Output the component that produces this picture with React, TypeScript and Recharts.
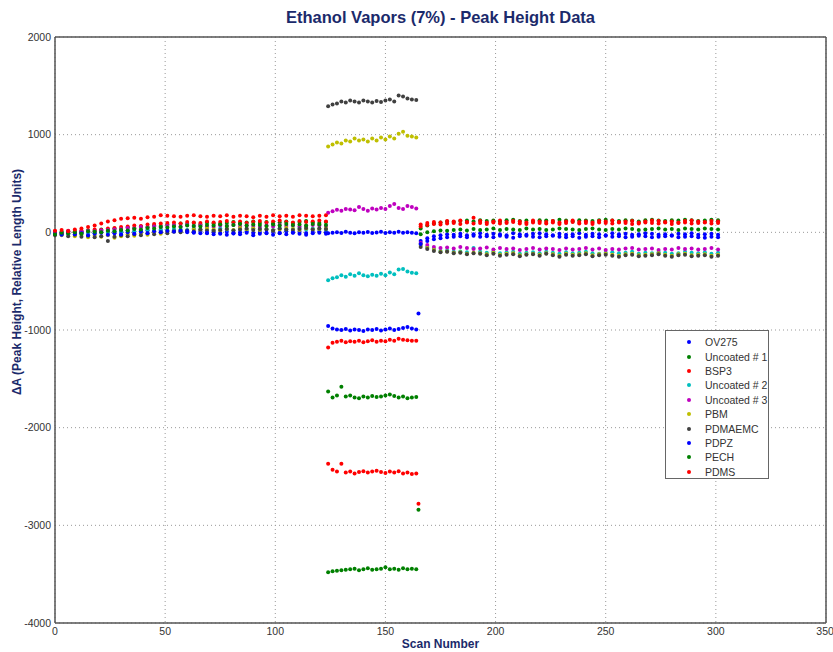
import { ScatterChart, Scatter, XAxis, YAxis, CartesianGrid, ReferenceLine } from "recharts";

// scan numbers: before exposure, during exposure, after
const scansA = [0, 3, 6, 9, 12, 15, 18, 21, 24, 27, 30, 33, 36, 39, 42, 45, 48, 51, 54, 57, 60, 63, 66, 69, 72, 75, 78, 81, 84, 87, 90, 93, 96, 99, 102, 105, 108, 111, 114, 117, 120, 123];
const scansB = [124, 126, 128, 130, 132, 134, 136, 138, 140, 142, 144, 146, 148, 150, 152, 154, 156, 158, 160, 162, 164, 165];
const scansC = [166, 169, 172, 175, 178, 181, 184, 187, 190, 193, 196, 199, 202, 205, 208, 211, 214, 217, 220, 223, 226, 229, 232, 235, 238, 241, 244, 247, 250, 253, 256, 259, 262, 265, 268, 271, 274, 277, 280, 283, 286, 289, 292, 295, 298, 301];
const scans = [...scansA, ...scansB, ...scansC];

const ov275 = [
  5, -10, 8, -5, 12, 0, -8, 15, 5, -3, 10, 18, 6, 12, 20, 8, 15, 5, 22, 10, 2, -5, 8, -10, 3, -8, 5, -12, 0, 8, -6, 4, -10, 6, -4, 10, -2, 5, -8, 3, 8, 0,
  -10, -5, 0, -8, 5, -3, -10, 0, -5, 3, -8, -2, 5, -6, 0, -4, 6, -3, 0, -5, -10, null,
  -90, -60, -40, -30, -20, -25, -15, -30, -20, -10, -25, -15, -20, -30, -10, -20, -25, -15, -10, -20, -30, -15, -25, -20, -10, -25, -15, -20, -30, -10, -20, -15, -25, -20, -10, -15, -25, -20, -30, -15, -20, -10, -25, -20, -15, -25,
];
const uncoated1 = [
  -10, 5, -15, 10, 0, 20, 15, 30, 25, 40, 35, 50, 45, 60, 55, 70, 65, 80, 75, 90, 85, 95, 80, 100, 90, 85, 95, 105, 90, 100, 110, 95, 105, 90, 100, 110, 95, 105, 115, 100, 95, 105,
  -1630, -1690, -1670, -1580, -1680, -1670, -1690, -1700, -1680, -1690, -1675, -1685, -1680, -1670, -1660, -1675, -1690, -1680, -1700, -1690, -1685, null,
  40, 70, 90, 100, 110, 105, 115, 120, 110, 125, 115, 120, 110, 125, 130, 115, 120, 110, 125, 120, 115, 130, 120, 110, 125, 120, 115, 125, 130, 120, 115, 125, 120, 110, 125, 130, 120, 115, 125, 120, 130, 125, 115, 120, 130, 125,
];
const bsp3 = [
  10, -5, 15, 0, 20, 10, 30, 25, 40, 45, 55, 60, 70, 65, 80, 85, 90, 95, 100, 90, 105, 100, 95, 110, 100, 105, 115, 100, 110, 95, 105, 115, 100, 110, 120, 105, 100, 115, 105, 110, 120, 110,
  -1180, -1130, -1120, -1110, -1125, -1115, -1120, -1110, -1125, -1115, -1105, -1120, -1110, -1115, -1100, -1110, -1090, -1100, -1105, -1110, -1110, null,
  60, 75, 85, 80, 90, 95, 85, 100, 90, 95, 85, 100, 90, 95, 105, 90, 85, 100, 95, 90, 100, 85, 95, 105, 90, 95, 85, 100, 95, 90, 100, 95, 85, 90, 100, 95, 90, 100, 85, 95, 100, 90, 95, 100, 90, 95,
];
const uncoated2 = [
  -10, 0, -20, -5, -15, 0, -10, 5, -5, 10, 0, 15, 10, 20, 25, 15, 30, 20, 35, 30, 25, 40, 30, 35, 25, 40, 30, 20, 35, 25, 40, 30, 35, 25, 40, 30, 35, 45, 30, 40, 35, 30,
  -490, -470, -460, -440, -455, -430, -445, -420, -440, -450, -435, -445, -425, -440, -410, -430, -380, -375, -400, -415, -420, null,
  -120, -150, -170, -190, -185, -200, -195, -205, -160, -200, -210, -195, -215, -205, -200, -220, -210, -205, -215, -200, -210, -220, -205, -215, -210, -200, -215, -220, -210, -205, -215, -210, -200, -220, -210, -215, -205, -210, -220, -215, -200, -210, -215, -205, -220, -210,
];
const uncoated3 = [
  0, -10, 10, -5, 5, 15, 10, 20, 25, 30, 35, 45, 40, 55, 50, 60, 55, 65, 70, 60, 75, 65, 70, 60, 55, 70, 65, 75, 60, 70, 65, 55, 70, 60, 75, 65, 70, 60, 65, 75, 70, 65,
  200, 215, 230, 220, 240, 235, 225, 260, 240, 220, 245, 235, 250, 240, 270, 290, 250, 240, 270, 260, 245, null,
  -110, -130, -150, -160, -155, -165, -150, -160, -170, -165, -155, -175, -160, -170, -165, -180, -170, -160, -175, -165, -170, -180, -165, -175, -170, -160, -175, -165, -180, -170, -175, -165, -160, -175, -170, -165, -180, -170, -175, -160, -170, -165, -175, -170, -160, -175,
];
const pbm = [
  -20, -30, -10, -40, -25, -50, -35, -45, -30, -55, -40, -20, -35, -10, -25, 0, -15, 10, 5, 20, 15, 30, 25, 40, 30, 20, 35, 25, 45, 30, 40, 25, 35, 20, 30, 45, 35, 25, 40, 30, 35, 40,
  880, 900, 920, 910, 940, 930, 960, 940, 950, 930, 960, 940, 970, 950, 980, 960, 1010, 1030, 990, 980, 970, null,
  -130, -160, -180, -200, -195, -210, -205, -220, -210, -215, -225, -210, -230, -220, -215, -235, -225, -220, -230, -215, -225, -240, -220, -230, -225, -215, -235, -225, -220, -230, -240, -225, -220, -235, -230, -225, -215, -230, -240, -225, -220, -235, -230, -225, -240, -230,
];
const pdmaemc = [
  -30, -20, -40, -25, -45, -35, -50, -40, -90, -45, -30, -40, -20, -30, -10, -20, 0, -10, 10, 0, 20, 10, 30, 20, 15, 25, 35, 20, 30, 40, 25, 35, 30, 20, 40, 30, 25, 35, 45, 30, 40, 35,
  1290, 1310, 1320, 1340, 1330, 1350, 1340, 1330, 1350, 1340, 1330, 1345, 1335, 1350, 1360, 1340, 1400, 1390, 1370, 1360, 1355, null,
  -150, -170, -190, -205, -200, -215, -210, -225, -215, -220, -235, -220, -240, -230, -225, -245, -230, -225, -240, -220, -235, -250, -230, -240, -235, -225, -245, -235, -230, -240, -250, -235, -230, -245, -240, -235, -225, -240, -250, -235, -230, -245, -240, -235, -250, -240,
];
const pdpz = [
  -15, -25, -5, -20, -10, -30, -15, -5, -25, -10, -20, 0, -15, 5, -10, 10, 0, 15, 5, 20, 10, 0, -10, -5, -20, -15, -25, -10, -20, -5, -30, -15, -5, -25, -10, -20, -5, -15, -25, -10, -5, -15,
  -960, -985, -995, -1000, -990, -1005, -995, -1000, -1010, -995, -1000, -990, -1005, -995, -985, -1000, -990, -980, -970, -985, -995, -830,
  -120, -90, -70, -60, -50, -45, -40, -50, -35, -45, -40, -50, -35, -45, -55, -40, -35, -45, -50, -40, -35, -45, -50, -40, -55, -45, -40, -50, -35, -45, -40, -50, -45, -35, -40, -50, -45, -40, -35, -50, -45, -40, -50, -55, -45, -50,
];
const pech = [
  -20, -5, -10, 0, -15, 10, 5, 0, 15, 10, 25, 20, 35, 30, 45, 40, 55, 50, 60, 55, 70, 65, 60, 75, 70, 80, 65, 75, 85, 70, 80, 75, 65, 80, 70, 85, 75, 80, 70, 85, 80, 75,
  -3480, -3470, -3465, -3460, -3455, -3450, -3445, -3460, -3450, -3440, -3455, -3450, -3445, -3430, -3450, -3445, -3455, -3440, -3450, -3445, -3450, -2840,
  -20, 0, 10, 20, 15, 25, 30, 20, 35, 25, 30, 40, 25, 35, 30, 25, 40, 30, 35, 25, 30, 40, 35, 30, 25, 35, 40, 30, 25, 35, 30, 40, 35, 25, 30, 35, 40, 30, 35, 25, 40, 35, 30, 40, 35, 30,
];
const pdms = [
  15, 25, 10, 30, 40, 55, 70, 90, 110, 125, 140, 145, 150, 140, 155, 160, 175, 170, 165, 160, 170, 175, 165, 160, 170, 165, 175, 160, 170, 165, 155, 170, 160, 175, 165, 170, 160, 175, 170, 165, 170, 175,
  -2370, -2430, -2450, -2370, -2460, -2450, -2470, -2455, -2445, -2460, -2450, -2440, -2455, -2465, -2450, -2460, -2445, -2470, -2460, -2475, -2470, -2780,
  80, 95, 105, 100, 115, 110, 120, 105, 150, 115, 100, 110, 120, 105, 115, 110, 100, 120, 110, 105, 115, 100, 110, 120, 105, 110, 100, 115, 110, 120, 105, 110, 115, 100, 110, 120, 115, 105, 110, 100, 115, 120, 110, 105, 115, 110,
];

const series = [
  { name: "OV275", color: "#0000FF", values: ov275 },
  { name: "Uncoated # 1", color: "#008000", values: uncoated1 },
  { name: "BSP3", color: "#FF0000", values: bsp3 },
  { name: "Uncoated # 2", color: "#00BFBF", values: uncoated2 },
  { name: "Uncoated # 3", color: "#BF00BF", values: uncoated3 },
  { name: "PBM", color: "#BFBF00", values: pbm },
  { name: "PDMAEMC", color: "#404040", values: pdmaemc },
  { name: "PDPZ", color: "#0000FF", values: pdpz },
  { name: "PECH", color: "#008000", values: pech },
  { name: "PDMS", color: "#FF0000", values: pdms },
];

const xTicks = [0, 50, 100, 150, 200, 250, 300, 350];
const yTicks = [-4000, -3000, -2000, -1000, 0, 1000, 2000];

const toPoints = (vals: (number | null)[]) =>
  scans.map((x, i) => ({ x, y: vals[i] })).filter((p) => p.y !== null && p.y !== undefined);

const navy = "#1B2A6B";
const font = "'Liberation Sans Narrow', 'Liberation Sans', Arial, sans-serif";

export default function App() {
  return (
    <div style={{ position: "absolute", left: 0, top: 0, width: 833, height: 652, background: "#fff", fontFamily: font }}>
      <div style={{ position: "absolute", left: 55, top: 8, width: 771, textAlign: "center", fontWeight: "bold", fontSize: 16.5, color: navy }}>
        Ethanol Vapors (7%) - Peak Height Data
      </div>
      <div
        style={{
          position: "absolute", left: 17 - 200, top: 282 - 7, width: 400, textAlign: "center",
          fontWeight: "bold", fontSize: 12, color: navy, transform: "rotate(-90deg)", lineHeight: "14px",
        }}
      >
        ΔA (Peak Height, Relative Length Units)
      </div>
      <div style={{ position: "absolute", left: 55, top: 637, width: 771, textAlign: "center", fontWeight: "bold", fontSize: 12, color: navy }}>
        Scan Number
      </div>

      <ScatterChart width={833} height={652} margin={{ top: 37, right: 7, bottom: 0, left: 0 }}>
        <CartesianGrid stroke="#999" strokeDasharray="1 3" />
        <XAxis
          type="number" dataKey="x" domain={[0, 350]} ticks={xTicks} height={29}
          tickLine={false} tickSize={5} tickMargin={0}
          axisLine={{ stroke: "#555", strokeWidth: 1.5 }}
          tick={{ fontSize: 10.5, fill: "#333", fontFamily: font }}
        />
        <YAxis
          type="number" dataKey="y" domain={[-4000, 2000]} ticks={yTicks} width={55}
          tickLine={false} tickSize={4} tickMargin={0}
          axisLine={{ stroke: "#555", strokeWidth: 1.5 }}
          tick={{ fontSize: 10.5, fill: "#333", fontFamily: font }}
        />
        <ReferenceLine y={2000} stroke="#555" strokeWidth={1.5} />
        <ReferenceLine x={350} stroke="#555" strokeWidth={1.5} />
        {series.map((s) => (
          <Scatter
            key={s.name}
            name={s.name}
            data={toPoints(s.values)}
            fill={s.color}
            isAnimationActive={false}
            shape={(p: any) => <circle cx={p.cx} cy={p.cy} r={2} fill={s.color} />}
          />
        ))}
      </ScatterChart>

      <div
        style={{
          position: "absolute", left: 665, top: 330, width: 104, height: 149,
          border: "1px solid #666", background: "#fff", paddingTop: 4, boxSizing: "border-box",
        }}
      >
        {series.map((s) => (
          <div key={s.name} style={{ display: "flex", alignItems: "center", height: 14.4, fontSize: 10.5, color: "#333", fontFamily: "'Liberation Sans', Arial, sans-serif" }}>
            <span style={{ width: 4, height: 4, borderRadius: "50%", background: s.color, marginLeft: 21, marginRight: 14 }} />
            {s.name}
          </div>
        ))}
      </div>
    </div>
  );
}
